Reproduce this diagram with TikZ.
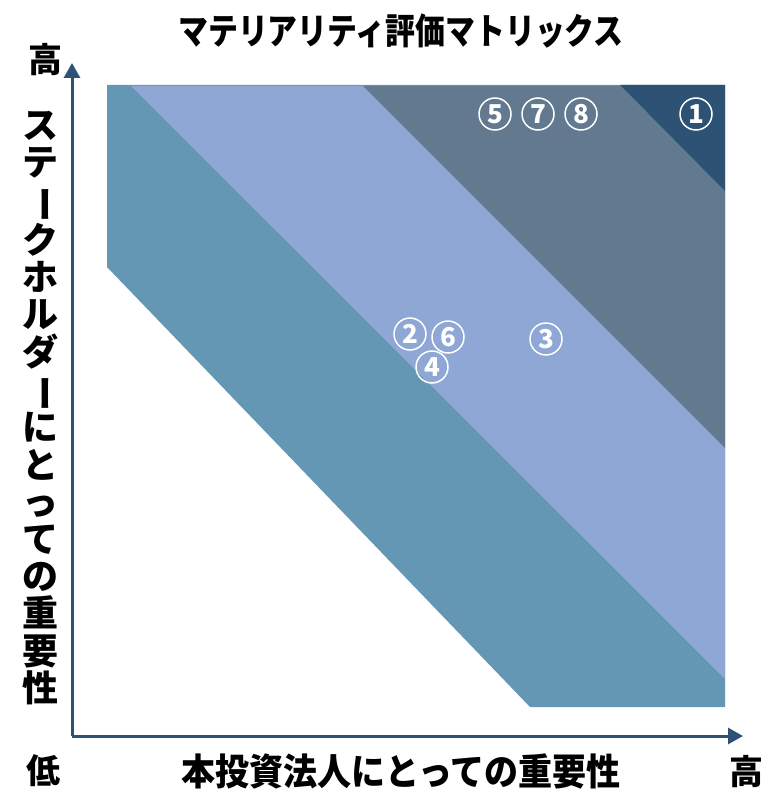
\documentclass[tikz,border=0pt]{standalone}
\usepackage{fontspec}
\usetikzlibrary{arrows.meta}
\newfontfamily\jp{Noto Sans CJK JP}
\newfontfamily\jpt{Noto Sans CJK JP}[FakeStretch=0.83]
\newfontfamily\jpx{Noto Sans CJK JP}[FakeStretch=0.92]
\definecolor{cteal}{HTML}{6497B4}
\definecolor{clight}{HTML}{8EA7D5}
\definecolor{cgray}{HTML}{62798F}
\definecolor{cnavy}{HTML}{2D5274}
\definecolor{caxis}{HTML}{2E5276}
\tikzset{
  axisline/.style={draw=caxis, line width=3pt, -{Triangle[width=16pt,length=15pt]}},
  numc/.style={circle, draw=white, line width=1.5pt, text=white, minimum size=32pt, inner sep=0pt, font=\jp\bfseries\fontsize{26}{26}\selectfont},
  lab/.style={text=black, inner sep=0pt}
}
\begin{document}
\begin{tikzpicture}[x=1pt,y=-1pt]
\useasboundingbox (0,0) rectangle (771,789);
% bands
\fill[cteal] (107,85) -- (725,85) -- (725,707) -- (530,707) -- (107,267) -- cycle;
\fill[clight] (131,86) -- (363,86) -- (725,448) -- (725,679) -- cycle;
\fill[cgray] (363,86) -- (620,86) -- (725,191) -- (725,448) -- cycle;
\fill[cnavy] (620,85) -- (725,85) -- (725,191) -- cycle;
% axes
\coordinate (O) at (72,736);
\coordinate (Ytip) at (72,63);
\coordinate (Xtip) at (743,736);
\draw[axisline] (O) -- (Ytip);
\draw[axisline] (O) -- (Xtip);
% numbers
\node[numc] (n5) at (495,114) {5};
\node[numc] (n7) at (538,114) {7};
\node[numc] (n8) at (581,114) {8};
\node[numc] (n1) at (696,114) {1};
\node[numc] (n2) at (410,334) {2};
\node[numc] (n6) at (448,337) {6};
\node[numc] (n4) at (432,367) {4};
\node[numc] (n3) at (546,339) {3};
% labels
\node[lab, font=\jpt\bfseries\fontsize{36}{36}\selectfont] (title) at (401,31) {マテリアリティ評価マトリックス};
\node[lab, font=\jpx\bfseries\fontsize{37}{37}\selectfont] (xlab) at (401,771) {本投資法人にとっての重要性};
\node[lab, align=center, font=\jp\bfseries\fontsize{36}{37.2}\selectfont] (ylab) at (40,408)
  {ス\\テ\\\rotatebox[origin=c]{-90}{ー}\\ク\\ホ\\ル\\ダ\\\rotatebox[origin=c]{-90}{ー}\\に\\と\\っ\\て\\の\\重\\要\\性};
\node[lab, font=\jp\bfseries\fontsize{34}{34}\selectfont] (hiY) at (45,60) {高};
\node[lab, font=\jp\bfseries\fontsize{34}{34}\selectfont] (lo) at (44,771) {低};
\node[lab, font=\jp\bfseries\fontsize{34}{34}\selectfont] (hiX) at (746,772) {高};
\end{tikzpicture}
\end{document}
